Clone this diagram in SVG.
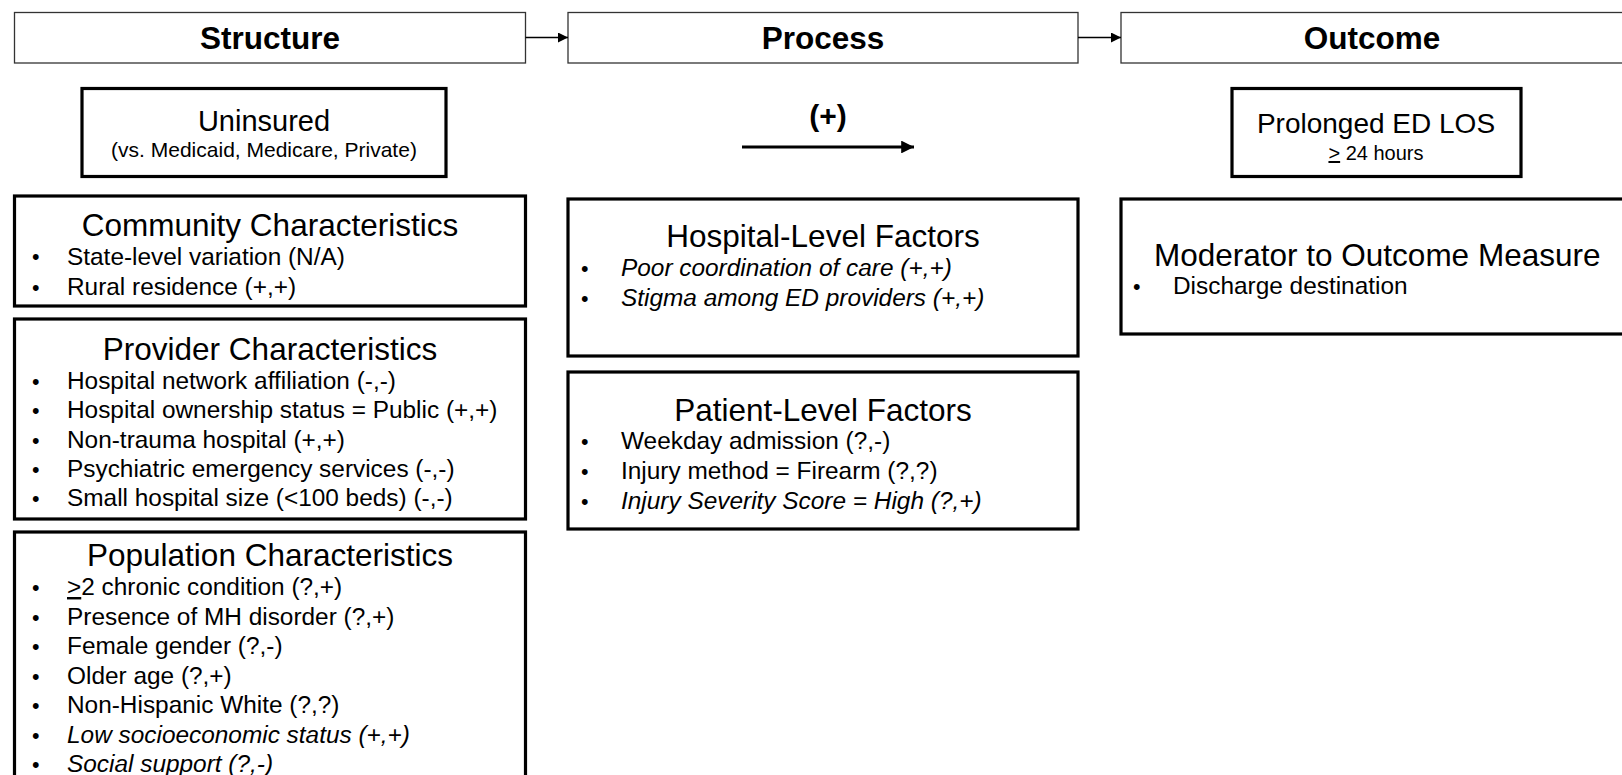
<svg xmlns="http://www.w3.org/2000/svg" width="1622" height="775" viewBox="0 0 1622 775">
<style>
text{font-family:"Liberation Sans",Arial,sans-serif;fill:#000}
.hdr{fill:#fff;stroke:#333;stroke-width:1.3}
.box{fill:#fff;stroke:#000;stroke-width:3.2}
.h{font-size:31.5px;font-weight:bold;text-anchor:middle}
.t{font-size:31.5px;text-anchor:middle}
.ts{font-size:31.5px}
.b{font-size:24.4px}
.d{font-size:21.5px}
.i{font-style:italic}
.c{text-anchor:middle}
</style>
<defs>
<marker id="ah" viewBox="0 0 10 10" refX="10" refY="5" markerWidth="10" markerHeight="10" markerUnits="userSpaceOnUse" orient="auto"><path d="M0,0 L10,5 L0,10 z" fill="#000"/></marker>
<marker id="ah2" viewBox="0 0 10 10" refX="10" refY="5" markerWidth="4" markerHeight="4" orient="auto"><path d="M0,0 L10,5 L0,10 z" fill="#000"/></marker>
</defs>
<g id="structure"><rect class="hdr" x="14.5" y="12.5" width="511" height="50.5"/><text class="h" x="270" y="49">Structure</text></g>
<g id="process"><rect class="hdr" x="568" y="12.5" width="510" height="50.5"/><text class="h" x="823" y="49">Process</text></g>
<g id="outcome"><rect class="hdr" x="1121" y="12.5" width="510" height="50.5"/><text class="h" x="1372" y="49">Outcome</text></g>
<g id="uninsured"><rect class="box" x="82" y="88.5" width="364" height="88"/><text class="c" x="264" y="131" font-size="29">Uninsured</text><text class="c" x="264" y="157" font-size="21">(vs. Medicaid, Medicare, Private)</text></g>
<g id="effect"><text class="c" x="828" y="126" font-size="30" font-weight="bold">(+)</text></g>
<g id="prolonged"><rect class="box" x="1232" y="88.5" width="289" height="88"/><text class="c" x="1376" y="133" font-size="28">Prolonged ED LOS</text><text class="c" x="1376" y="160" font-size="20"><tspan text-decoration="underline">&gt;</tspan> 24 hours</text></g>
<g id="community"><rect class="box" x="14.5" y="196" width="511" height="110"/><text class="t" x="270" y="236">Community Characteristics</text>
<text class="d" x="32" y="264">•</text><text class="b" x="67" y="264.5">State-level variation (N/A)</text>
<text class="d" x="32" y="295">•</text><text class="b" x="67" y="295">Rural residence (+,+)</text></g>
<g id="provider"><rect class="box" x="14.5" y="319" width="511" height="200"/><text class="t" x="270" y="360">Provider Characteristics</text>
<text class="d" x="32" y="389">•</text><text class="b" x="67" y="389">Hospital network affiliation (-,-)</text>
<text class="d" x="32" y="418">•</text><text class="b" x="67" y="418">Hospital ownership status = Public (+,+)</text>
<text class="d" x="32" y="447.5">•</text><text class="b" x="67" y="447.5">Non-trauma hospital (+,+)</text>
<text class="d" x="32" y="477">•</text><text class="b" x="67" y="477">Psychiatric emergency services (-,-)</text>
<text class="d" x="32" y="506">•</text><text class="b" x="67" y="506">Small hospital size (&lt;100 beds) (-,-)</text></g>
<g id="population"><rect class="box" x="14.5" y="532" width="511" height="260"/><text class="t" x="270" y="566">Population Characteristics</text>
<text class="d" x="32" y="595">•</text><text class="b" x="67" y="595"><tspan text-decoration="underline">&gt;</tspan>2 chronic condition (?,+)</text>
<text class="d" x="32" y="624.5">•</text><text class="b" x="67" y="624.5">Presence of MH disorder (?,+)</text>
<text class="d" x="32" y="654">•</text><text class="b" x="67" y="654">Female gender (?,-)</text>
<text class="d" x="32" y="683.5">•</text><text class="b" x="67" y="683.5">Older age (?,+)</text>
<text class="d" x="32" y="713">•</text><text class="b" x="67" y="713">Non-Hispanic White (?,?)</text>
<text class="d" x="32" y="742.5">•</text><text class="b i" x="67" y="742.5">Low socioeconomic status (+,+)</text>
<text class="d" x="32" y="772">•</text><text class="b i" x="67" y="772">Social support (?,-)</text></g>
<g id="hospital"><rect class="box" x="568" y="199" width="510" height="157"/><text class="t" x="823" y="247">Hospital-Level Factors</text>
<text class="d" x="581" y="276">•</text><text class="b i" x="621" y="276">Poor coordination of care (+,+)</text>
<text class="d" x="581" y="306">•</text><text class="b i" x="621" y="306">Stigma among ED providers (+,+)</text></g>
<g id="patient"><rect class="box" x="568" y="372" width="510" height="157"/><text class="t" x="823" y="421">Patient-Level Factors</text>
<text class="d" x="581" y="449">•</text><text class="b" x="621" y="449">Weekday admission (?,-)</text>
<text class="d" x="581" y="479">•</text><text class="b" x="621" y="479">Injury method = Firearm (?,?)</text>
<text class="d" x="581" y="509">•</text><text class="b i" x="621" y="509">Injury Severity Score = High (?,+)</text></g>
<g id="moderator"><rect class="box" x="1121" y="199" width="510" height="135"/><text class="ts" x="1154" y="266">Moderator to Outcome Measure</text>
<text class="d" x="1133" y="294">•</text><text class="b" x="1173" y="294">Discharge destination</text></g>
<g id="connectors" stroke="#000" fill="none">
<line x1="525.5" y1="37.5" x2="568" y2="37.5" stroke-width="1.3" marker-end="url(#ah)"/>
<line x1="1078" y1="37.5" x2="1121" y2="37.5" stroke-width="1.3" marker-end="url(#ah)"/>
<line x1="742" y1="147" x2="914" y2="147" stroke-width="3.2" marker-end="url(#ah2)"/>
</g>
</svg>
